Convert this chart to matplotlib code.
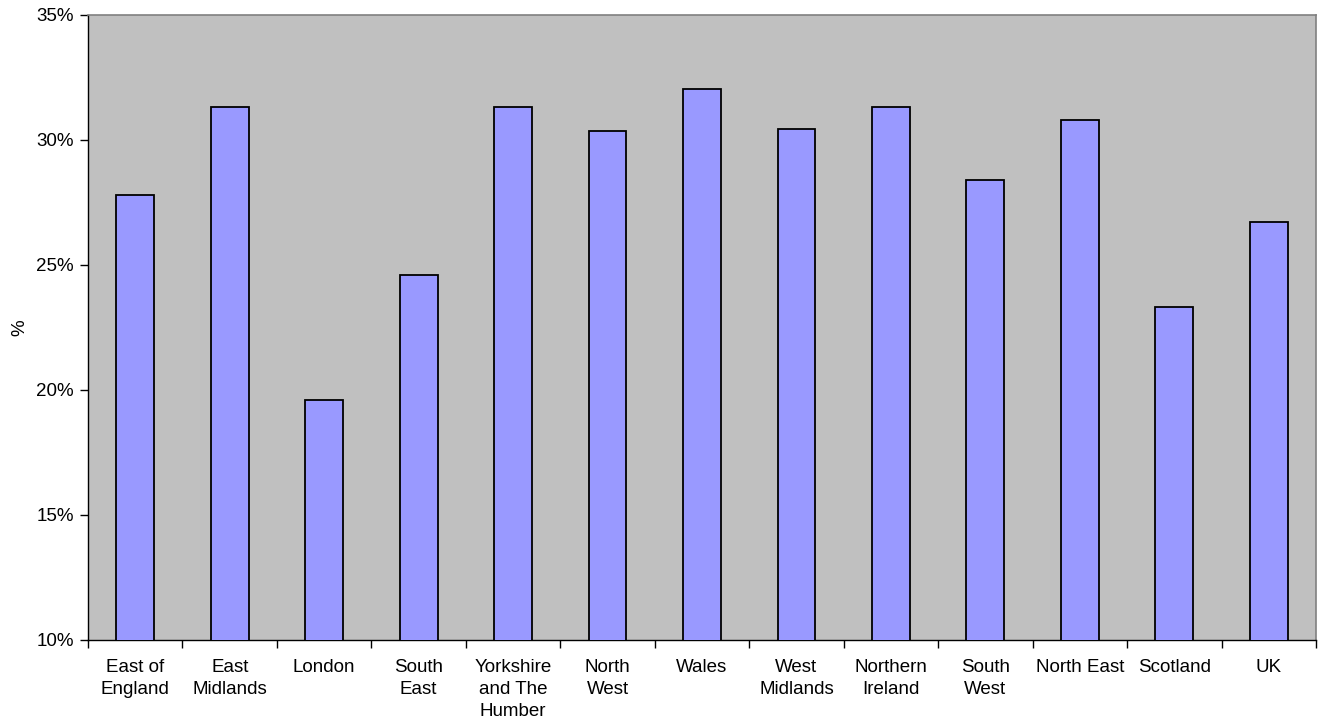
import matplotlib
matplotlib.use("Agg")
import matplotlib.pyplot as plt
import numpy as np
from matplotlib.ticker import FixedLocator, FuncFormatter

categories = ["East of\nEngland", "East\nMidlands", "London", "South\nEast",
              "Yorkshire\nand The\nHumber", "North\nWest", "Wales", "West\nMidlands",
              "Northern\nIreland", "South\nWest", "North East", "Scotland", "UK"]
values = [27.8, 31.3, 19.6, 24.6, 31.3, 30.35, 32.05, 30.45, 31.3, 28.4, 30.8, 23.3, 26.7]
yticks = [10, 15, 20, 25, 30, 35]

plt.rcParams['font.family'] = ['Liberation Sans', 'DejaVu Sans']

W, H = 1318, 720
fig = plt.figure(figsize=(W/100, H/100), dpi=100)
ax = fig.add_axes([88/W, 1-639.5/H, (1316-88)/W, (639.5-15)/H])
ax.set_facecolor('#C0C0C0')

x = np.arange(len(categories))
ax.bar(x, values, width=0.40, bottom=0, color='#9999FF', edgecolor='black', linewidth=1.3, zorder=3)
ax.set_xlim(-0.5, len(categories)-0.5)
ax.set_ylim(10, 35)

fs = 13.5
ax.yaxis.set_major_locator(FixedLocator(yticks))
ax.yaxis.set_major_formatter(FuncFormatter(lambda v, p: f"{v:.0f}%"))
ax.set_xticks(x)
ax.set_xticklabels(categories, fontsize=fs, linespacing=1.4, va='top')
ax.tick_params(axis='x', length=0, pad=14)
ax.set_xticks(np.arange(len(categories)+1)-0.5, minor=True)
ax.tick_params(axis='x', which='minor', length=6, width=1, direction='out')
ax.tick_params(axis='y', length=6, width=1, direction='out', labelsize=fs, pad=4)
ax.set_ylabel('%', fontsize=fs, labelpad=6)

for s in ['top', 'right']:
    ax.spines[s].set_color('#808080')
    ax.spines[s].set_linewidth(1.2)
for s in ['left', 'bottom']:
    ax.spines[s].set_color('black')
    ax.spines[s].set_linewidth(1)

fig.savefig('out.png', dpi=100)
